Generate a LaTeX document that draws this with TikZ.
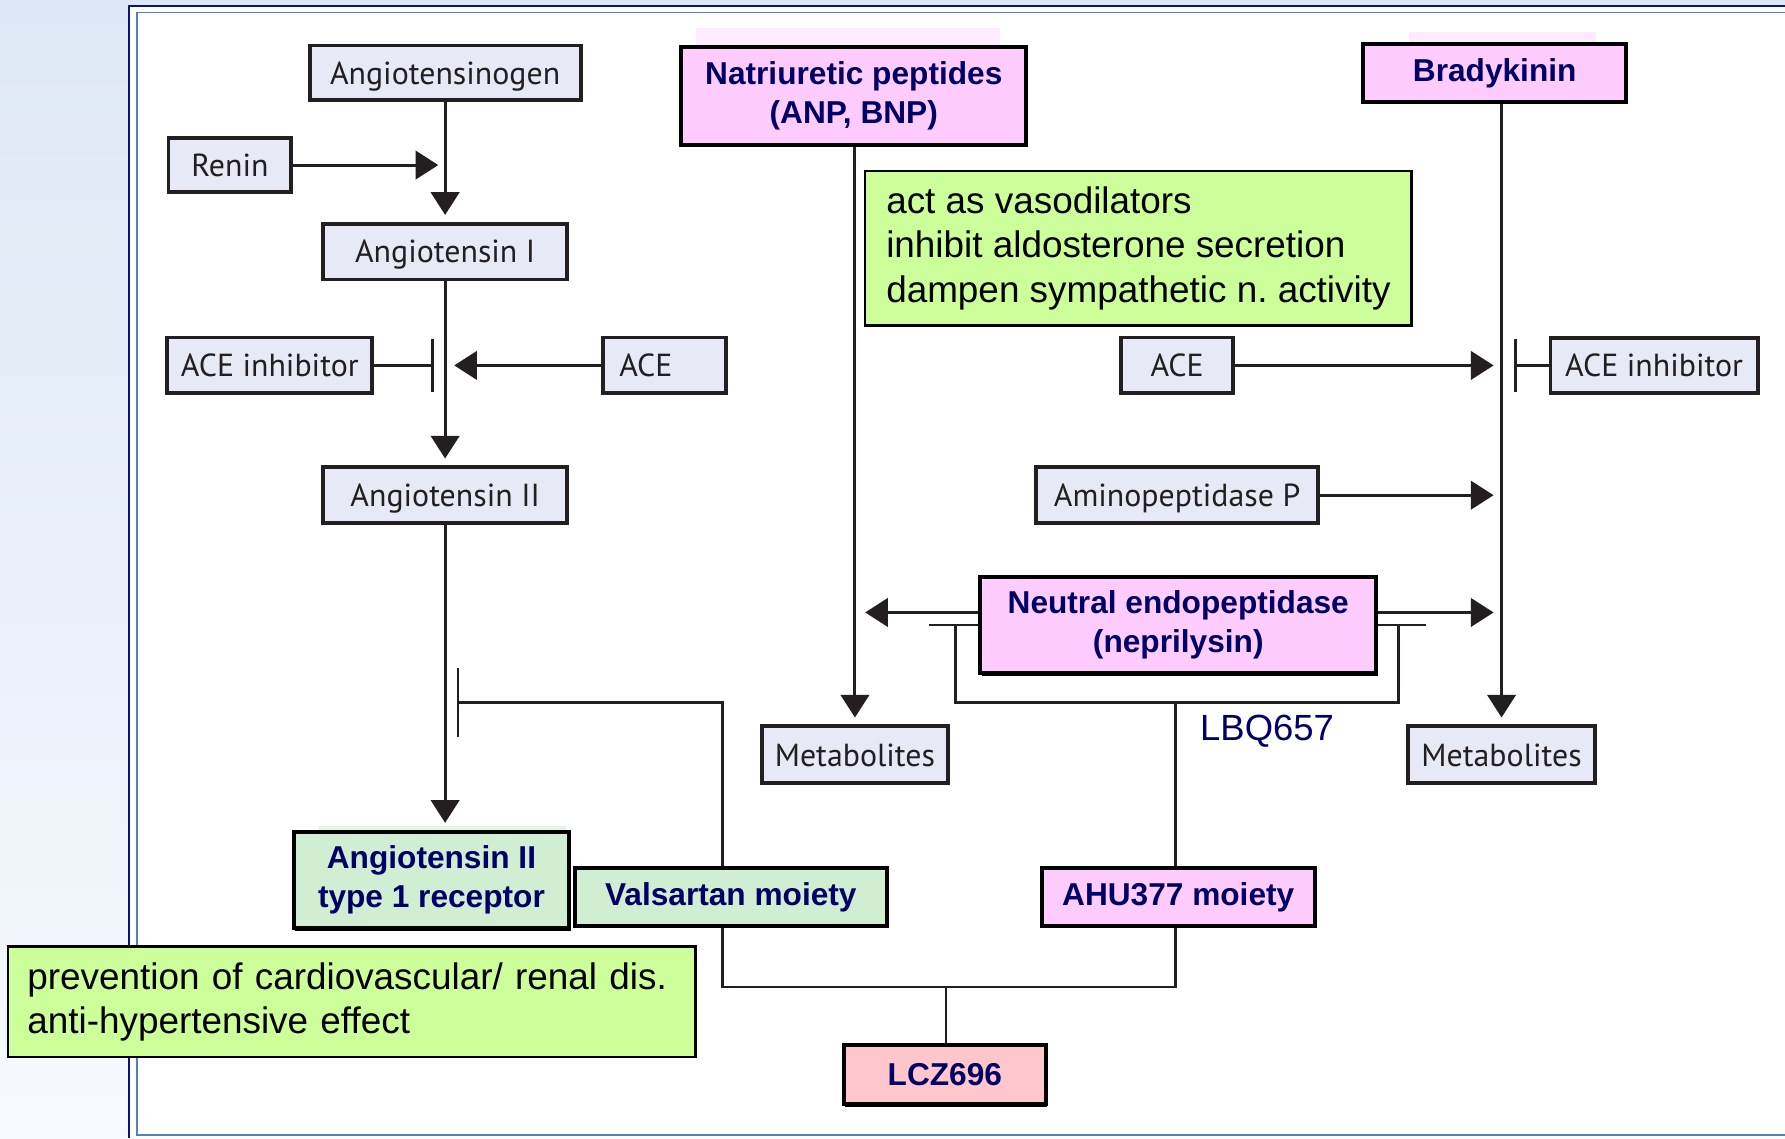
\documentclass[tikz,border=0pt]{standalone}
\usepackage{fontspec}
\setmainfont{Liberation Sans}
\newfontfamily\labfont{PT Sans}
\usetikzlibrary{positioning,calc,arrows.meta,shadows}
\definecolor{bgblue}{RGB}{221,232,246}
\definecolor{frameblue}{RGB}{10,20,120}
\definecolor{lineblue}{RGB}{80,130,195}
\definecolor{boxgrey}{RGB}{231,233,246}
\definecolor{inkgrey}{RGB}{35,31,32}
\definecolor{pinkfill}{RGB}{255,204,255}
\definecolor{greenfill}{RGB}{208,238,210}
\definecolor{lczfill}{RGB}{255,199,204}
\definecolor{notefill}{RGB}{204,255,153}
\definecolor{navytxt}{RGB}{0,0,102}
\frenchspacing

\begin{document}
\begin{tikzpicture}[x=0.5pt,y=-0.5pt,
  gbox/.style={draw=inkgrey,line width=1.7pt,fill=boxgrey,text=inkgrey,
    font=\labfont\fontsize{14}{17}\selectfont,inner sep=0pt,text depth=0pt},
  bbox/.style={draw=black,line width=1.7pt,text=navytxt,align=center,inner sep=0pt,
    font=\bfseries\fontsize{13.9}{17}\selectfont,
    drop shadow={shadow xshift=0.6pt,shadow yshift=-1pt,fill=black,opacity=1}},
  notebox/.style={draw=black,line width=1pt,fill=notefill,align=left,inner xsep=8pt,
    font=\fontsize{16.2}{19.5}\selectfont},
  link/.style={draw=inkgrey,line width=1.3pt},
  arr/.style={link,shorten >=3pt,-{Triangle[length=10pt,width=12.5pt]}},
  tee/.style={link,-{Bar[width=#1]}}
]
\useasboundingbox (0,0) rectangle (1568,1000);
\fill[top color=bgblue,bottom color=bgblue!25] (0,0) rectangle (1568,1000);
\fill[white] (113,5) rectangle (1568,1000);
\draw[frameblue,line width=0.9pt] (113,1000) |- (1568,5);
\draw[lineblue,line width=0.8pt] (1568,11) -| (120,997) -- (1568,997);
\fill[pinkfill!40] (611,25) rectangle (878,41);
\fill[pinkfill!40] (1238,28) rectangle (1402,38);
\fill[greenfill!60] (280,726) rectangle (497,731);

\node[gbox,minimum width=119pt,minimum height=24pt] (aogen) at (391,64) {Angiotensinogen};
\node[gbox,minimum width=54pt,minimum height=24pt] (renin) at (202,145) {Renin};
\node[gbox,minimum width=107pt,minimum height=24.5pt] (ang1) at (391,221) {Angiotensin I};
\node[gbox,minimum width=90pt,minimum height=24.5pt] (acei1) at (237,321) {ACE inhibitor};
\node[gbox,minimum width=54pt,minimum height=24.5pt,text width=40pt] (ace1) at (584,321) {ACE};
\node[gbox,minimum width=107pt,minimum height=24.5pt] (ang2) at (391,435) {Angiotensin II};
\node[bbox,fill=greenfill,minimum width=121pt,minimum height=42.5pt] (at1r) at (379,773) {Angiotensin II\\type 1 receptor};
\node[bbox,fill=greenfill,minimum width=137pt,minimum height=25.5pt] (vals) at (642,788) {Valsartan moiety};
\node[bbox,fill=pinkfill,minimum width=120pt,minimum height=25.5pt] (ahu) at (1035,788) {AHU377 moiety};
\node[bbox,fill=lczfill,minimum width=88.5pt,minimum height=26pt] (lcz) at (830,944) {LCZ696};
\node[bbox,fill=pinkfill,minimum width=174pt,minimum height=42.5pt] (nep) at (1035,549) {Neutral endopeptidase\\(neprilysin)};
\node[bbox,fill=pinkfill,minimum width=151.5pt,minimum height=43pt] (np) at (750,84) {Natriuretic peptides\\(ANP, BNP)};
\node[bbox,fill=pinkfill,minimum width=115.5pt,minimum height=25.5pt] (brady) at (1313,64) {Bradykinin};
\node[gbox,minimum width=81.5pt,minimum height=25pt] (met1) at (751,663) {Metabolites};
\node[gbox,minimum width=82pt,minimum height=25pt] (met2) at (1319,663) {Metabolites};
\node[gbox,minimum width=49pt,minimum height=24.5pt] (ace2) at (1034,321) {ACE};
\node[gbox,minimum width=91pt,minimum height=24pt] (acei2) at (1453,321) {ACE inhibitor};
\node[gbox,minimum width=124pt,minimum height=24.5pt] (amp) at (1034,435) {Aminopeptidase P};
\node[notebox,minimum width=240pt,minimum height=68pt] (eff1) at (1000,218) {act as vasodilators\\inhibit aldosterone secretion\\dampen sympathetic n. activity};
\node[notebox,minimum width=302pt,minimum height=48.5pt,text width=285pt] (eff2) at (309,880) {prevention of cardiovascular/ renal dis.\\anti-hypertensive effect};
\node[text=navytxt,font=\fontsize{16}{19}\selectfont] (lbq) at (1113,642) {LBQ657};

% renin-angiotensin side
\coordinate (rj) at (391,145);
\coordinate (ace1j) at (391,321);
\coordinate (t1) at (381,321);
\coordinate (t2) at (401,617);
\draw[arr] (aogen) -- (ang1);
\draw[arr] (renin) -- (rj);
\draw[arr] (ang1) -- (ang2);
\draw[arr,shorten >=4pt] (ace1) -- (ace1j);
\draw[tee=23pt] (acei1) -- (t1);
\draw[arr] (ang2) -- (ang2 |- at1r.north);
\draw[tee=30.5pt] ($(vals.north)+(-7,0)$) |- (t2);

% LCZ696 and its two moieties
\coordinate (lj) at (831,867);
\coordinate (bj) at (1033,617);
\draw[link] ($(vals.south)+(-7,0)$) |- (lj) -| ($(ahu.south)+(-2,0)$);
\draw[link] (lj) -- (lj |- lcz.north);
\draw[link] (bj) -- (bj |- ahu.north);
\draw[link] ($(nep.west)+(-20,0)$) |- (bj) -| ($(nep.east)+(18,0)$);
\draw[link] (nep.west) -- ++(-43,0);
\draw[link] (nep.east) -- ++(42,0);

% natriuretic peptides and bradykinin
\coordinate (npj) at (751,538);
\coordinate (bkj) at (1319,538);
\coordinate (ace2j) at (1319,321);
\coordinate (t3) at (1330,321);
\coordinate (ampj) at (1319,435);
\draw[arr] (met1.north |- np.south) -- (met1.north);
\draw[arr] (met2.north |- brady.south) -- (met2.north);
\draw[arr,shorten >=4.5pt] ($(nep.west)+(0,-11)$) -- (npj);
\draw[arr,shorten >=3.5pt] ($(nep.east)+(0,-11)$) -- (bkj);
\draw[arr,shorten >=3.5pt] (ace2) -- (ace2j);
\draw[tee=23pt] (acei2) -- (t3);
\draw[arr,shorten >=3.5pt] (amp) -- (ampj);
\end{tikzpicture}
\end{document}
